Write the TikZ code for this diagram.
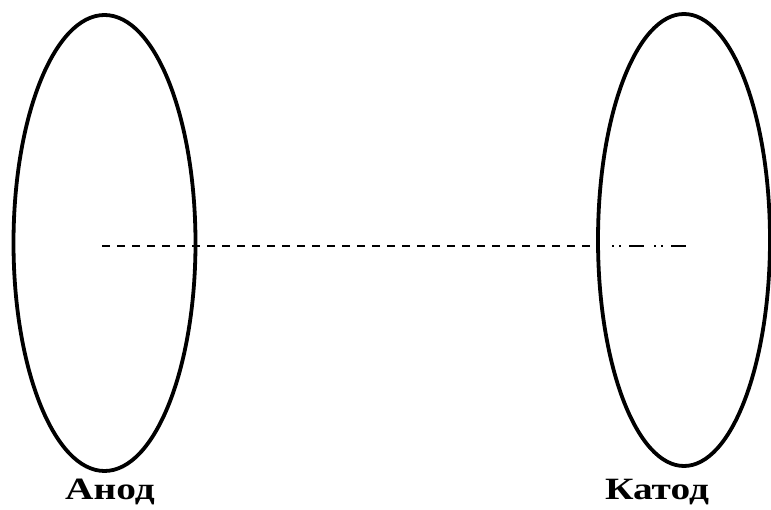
\documentclass[tikz,border=0pt]{standalone}
\usepackage{fontspec}
\setmainfont{Liberation Serif}
\usetikzlibrary{shapes}

\begin{document}
\begin{tikzpicture}[x=1pt,y=-1pt]
\useasboundingbox (0,0) rectangle (771,510);
\node[shape=ellipse,draw=black,line width=3.8pt,minimum width=182pt,minimum height=456pt,inner sep=0pt] (anode) at (104.5,243) {};
\node[shape=ellipse,draw=black,line width=3.8pt,minimum width=172pt,minimum height=452pt,inner sep=0pt] (cathode) at (684,240) {};
\node[anchor=base,font=\bfseries\fontsize{31}{33}\selectfont] (anodelabel) at (110,499) {\scalebox{1.27}[1]{Анод}};
\node[anchor=base,font=\bfseries\fontsize{31}{33}\selectfont] (cathodelabel) at (657,499) {\scalebox{1.27}[1]{Катод}};

\coordinate (axisstart) at (102,246);
\coordinate (axisbreak) at (600,246);
\coordinate (axisdots) at (612,246);
\coordinate (axisend) at (686,246);

\path [-,draw=black,line width=1.8pt,dash pattern=on 8pt off 7pt] (axisstart) edge (axisbreak);
\path [-,draw=black,line width=1.8pt,dash pattern=on 2pt off 5pt on 2pt off 8pt on 15pt off 10pt] (axisdots) edge (axisend);
\end{tikzpicture}
\end{document}
